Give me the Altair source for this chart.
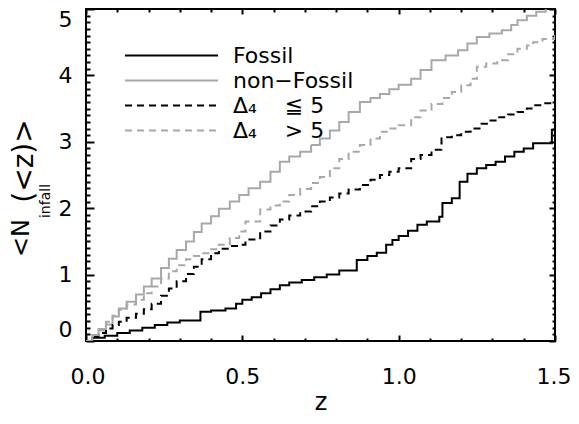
import altair as alt
import pandas as pd

NB = "\u00a0"
series_names = ["Fossil", "non\u2212Fossil",
                "\u0394\u2084" + NB * 4 + "\u2266 5", "\u0394\u2084" + NB * 4 + "> 5"]
series_colors = ["#000000", "#a8a8a8", "#000000", "#a8a8a8"]
series_dashes = [[1, 0], [1, 0], [7, 5], [7, 5]]

fossil_z = [0, 0.02, 0.06, 0.10, 0.14, 0.18, 0.22, 0.26, 0.30, 0.366, 0.40, 0.446, 0.48, 0.50, 0.53,
            0.56, 0.59, 0.62, 0.65, 0.69, 0.73, 0.77, 0.81, 0.866, 0.90, 0.93, 0.96, 0.98, 1.0, 1.03,
            1.06, 1.09, 1.13, 1.14, 1.17, 1.195, 1.22, 1.25, 1.28, 1.31, 1.34, 1.37, 1.40, 1.43, 1.49, 1.5]
fossil_n = [0, 0.05, 0.08, 0.12, 0.16, 0.20, 0.24, 0.28, 0.31, 0.44, 0.46, 0.49, 0.56, 0.62, 0.66,
            0.72, 0.78, 0.84, 0.88, 0.92, 0.96, 1.0, 1.06, 1.22, 1.28, 1.33, 1.45, 1.52, 1.58, 1.66,
            1.75, 1.80, 1.87, 2.08, 2.15, 2.40, 2.52, 2.60, 2.65, 2.70, 2.78, 2.85, 2.90, 2.98, 3.18, 3.18]

nonfossil_z = [0, 0.02, 0.04, 0.064, 0.085, 0.105, 0.13, 0.16, 0.185, 0.21, 0.24, 0.265, 0.29, 0.32,
               0.345, 0.37, 0.40, 0.425, 0.46, 0.49, 0.52, 0.557, 0.59, 0.62, 0.65, 0.685, 0.72, 0.748,
               0.78, 0.81, 0.84, 0.876, 0.91, 0.94, 0.97, 1.0, 1.04, 1.07, 1.105, 1.15, 1.19, 1.22,
               1.25, 1.29, 1.33, 1.36, 1.38, 1.41, 1.44, 1.47, 1.5]
nonfossil_n = [0, 0.08, 0.16, 0.25, 0.37, 0.49, 0.59, 0.70, 0.82, 0.94, 1.10, 1.24, 1.37, 1.50,
               1.64, 1.77, 1.88, 1.99, 2.10, 2.20, 2.30, 2.40, 2.55, 2.70, 2.78, 2.85, 2.95, 3.05,
               3.17, 3.30, 3.45, 3.60, 3.66, 3.72, 3.79, 3.86, 3.95, 4.08, 4.23, 4.30, 4.38, 4.48,
               4.58, 4.63, 4.68, 4.76, 4.83, 4.90, 4.96, 5.04, 5.1]

low_z = [0, 0.02, 0.04, 0.064, 0.085, 0.105, 0.13, 0.16, 0.185, 0.21, 0.24, 0.265, 0.29, 0.32, 0.345,
         0.37, 0.40, 0.425, 0.46, 0.49, 0.51, 0.557, 0.59, 0.62, 0.65, 0.685, 0.72, 0.748, 0.78, 0.81,
         0.84, 0.876, 0.91, 0.94, 0.97, 1.0, 1.04, 1.07, 1.105, 1.137, 1.17, 1.2, 1.23, 1.265, 1.29,
         1.315, 1.35, 1.38, 1.41, 1.43, 1.46, 1.5]
low_n = [0, 0.06, 0.12, 0.19, 0.24, 0.29, 0.35, 0.41, 0.48, 0.56, 0.68, 0.79, 0.90, 1.01, 1.12,
         1.23, 1.32, 1.39, 1.43, 1.45, 1.53, 1.65, 1.74, 1.83, 1.89, 1.95, 2.03, 2.10, 2.16, 2.22,
         2.28, 2.35, 2.43, 2.50, 2.55, 2.60, 2.74, 2.80, 2.88, 3.07, 3.10, 3.15, 3.20, 3.27, 3.32,
         3.37, 3.41, 3.45, 3.50, 3.55, 3.58, 3.60]

high_z = [0, 0.02, 0.04, 0.064, 0.085, 0.105, 0.13, 0.16, 0.185, 0.21, 0.24, 0.265, 0.29, 0.32, 0.345,
          0.37, 0.40, 0.425, 0.46, 0.49, 0.51, 0.557, 0.59, 0.62, 0.65, 0.685, 0.72, 0.748, 0.78, 0.81,
          0.84, 0.876, 0.91, 0.94, 0.97, 1.0, 1.04, 1.07, 1.105, 1.14, 1.17, 1.2, 1.23, 1.25, 1.28,
          1.315, 1.35, 1.38, 1.41, 1.43, 1.46, 1.5]
high_n = [0, 0.09, 0.18, 0.29, 0.38, 0.47, 0.55, 0.62, 0.72, 0.82, 0.94, 1.05, 1.14, 1.23, 1.28,
          1.32, 1.38, 1.45, 1.55, 1.65, 1.80, 1.98, 2.04, 2.10, 2.20, 2.29, 2.38, 2.47, 2.60, 2.74,
          2.85, 2.95, 3.05, 3.15, 3.20, 3.25, 3.37, 3.47, 3.57, 3.66, 3.75, 3.85, 3.95, 4.13, 4.18,
          4.23, 4.32, 4.40, 4.45, 4.50, 4.55, 4.62]

x_major = [0.0, 0.5, 1.0, 1.5]
x_minor = [0.1, 0.2, 0.3, 0.4, 0.6, 0.7, 0.8, 0.9, 1.1, 1.2, 1.3, 1.4]
y_major = [0, 1, 2, 3, 4, 5]
y_minor = [round(k * 0.1, 1) for k in range(51) if k % 10 != 0]

rows = []
for name, zs, ns in zip(series_names,
                        [fossil_z, nonfossil_z, low_z, high_z],
                        [fossil_n, nonfossil_n, low_n, high_n]):
    for i, (z, n) in enumerate(zip(zs, ns)):
        rows.append({"series": name, "z": z, "N": n, "i": i})
df = pd.DataFrame(rows)

W, H = 469, 332
FONT = "DejaVu Sans"

xscale = alt.Scale(domain=[0, 1.5], nice=False, zero=False)
yscale = alt.Scale(domain=[0, 5], nice=False, zero=False)

legend = alt.Legend(
    title=None, orient="none", legendX=38, legendY=34, symbolType="stroke",
    symbolSize=8649, symbolStrokeWidth=2, clipHeight=25, rowPadding=0, padding=0,
    symbolOffset=0, labelOffset=14, labelFont=FONT, labelFontSize=22, labelColor="black",
    labelLimit=300,
)

lines = alt.Chart(df).mark_line(interpolate="step-after", strokeWidth=2, clip=True).encode(
    x=alt.X("z:Q", scale=xscale, axis=alt.Axis(
        orient="bottom", values=x_major, format=".1f", ticks=False, tickSize=0, domain=False,
        grid=False, labelFont=FONT, labelFontSize=22, labelColor="black", labelPadding=25,
        labelFlush=1, labelFlushOffset=16,
        title="z", titleFont=FONT, titleFontSize=24, titleFontWeight="normal", titleColor="black",
        titleBaseline="alphabetic", titleY=68)),
    y=alt.Y("N:Q", scale=yscale, axis=alt.Axis(
        orient="left", values=y_major, format="d", ticks=False, tickSize=0, domain=False,
        grid=False, labelFont=FONT, labelFontSize=22, labelColor="black", labelPadding=14,
        labelFlush=True, title=None)),
    color=alt.Color("series:N", scale=alt.Scale(domain=series_names, range=series_colors), legend=legend),
    strokeDash=alt.StrokeDash("series:N", scale=alt.Scale(domain=series_names, range=series_dashes), legend=legend),
    order=alt.Order("i:Q"),
)


def xticks(orient, values, size):
    return alt.Chart(df).mark_point(opacity=0).encode(
        x=alt.X("z:Q", scale=xscale, axis=alt.Axis(
            orient=orient, values=values, tickSize=size, tickWidth=2, tickColor="black",
            labels=False, domain=False, grid=False, title=None, offset=-H)))


def yticks(orient, values, size):
    return alt.Chart(df).mark_point(opacity=0).encode(
        y=alt.Y("N:Q", scale=yscale, axis=alt.Axis(
            orient=orient, values=values, tickSize=size, tickWidth=2, tickColor="black",
            labels=False, domain=False, grid=False, title=None, offset=-W)))


tick_layers = [
    xticks("top", x_major, 6), xticks("top", x_minor, 3),
    xticks("bottom", x_major, 5), xticks("bottom", x_minor, 3),
    yticks("right", y_major, 8), yticks("right", y_minor, 4),
    yticks("left", y_major, 6), yticks("left", y_minor, 3),
]

dummy = alt.Data(values=[{}])
ytitle = [
    alt.Chart(dummy).mark_text(text="<N", angle=270, font=FONT, fontSize=24, align="center",
                               baseline="alphabetic", color="black").encode(
        x=alt.value(-57), y=alt.value(229)),
    alt.Chart(dummy).mark_text(text="infall", angle=270, font=FONT, fontSize=14, align="center",
                               baseline="alphabetic", color="black").encode(
        x=alt.value(-36), y=alt.value(192)),
    alt.Chart(dummy).mark_text(text="(<z)>", angle=270, font=FONT, fontSize=28, align="center",
                               baseline="alphabetic", color="black").encode(
        x=alt.value(-53), y=alt.value(152)),
]

chart = alt.layer(lines, *tick_layers, *ytitle).resolve_axis(
    x="independent", y="independent"
).properties(
    width=W, height=H,
    padding={"left": 78, "top": 1, "right": 16, "bottom": 75},
    autosize=alt.AutoSizeParams(type="none"),
).configure_view(stroke="black", strokeWidth=2)

chart.save("out.html", embed_options={"renderer": "svg", "actions": False})
